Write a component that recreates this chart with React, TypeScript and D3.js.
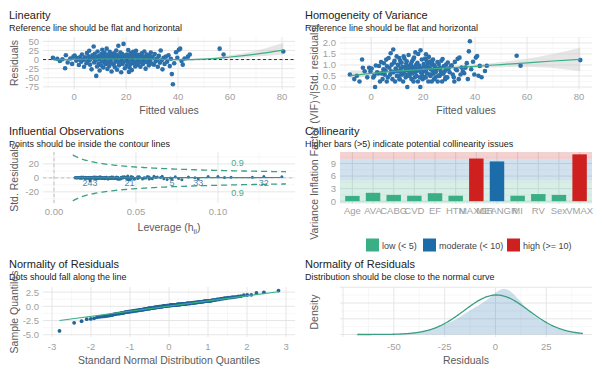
import React from "react";
import * as d3 from "d3";

// ---------- data ----------
const fitted = [
  -8.2, -6.5, -5.5, -4.5, -3.5, -3.2, -2.5, -1.5, -0.8, -0.3,
  0.2, 0.8, 1.2, 1.8, 2.3, 2.7, 3.0, 3.4, 3.8, 4.1, 4.4, 4.7, 4.9, 1.5,
  5.2, 5.5, 5.8, 6.1, 6.4, 6.7, 7.0, 7.3, 7.5, 7.7, 7.9, 8.2, 8.5, 8.6, 8.8, 9.0, 9.2, 9.4, 9.6, 9.8, 9.9, 6.0,
  10.1, 10.3, 10.5, 10.6, 10.8, 11.0, 11.2, 11.4, 11.5, 11.7, 11.9, 12.1, 12.3, 12.5, 12.6, 12.8, 13.0, 13.2, 13.3, 13.5, 13.7, 13.9, 14.0, 14.2, 14.4, 14.5, 14.7, 14.8, 10.9, 12.0,
  15.0, 15.2, 15.3, 15.5, 15.7, 15.8, 16.0, 16.2, 16.3, 16.5, 16.7, 16.8, 17.0, 17.1, 17.3, 17.5, 17.6, 17.8, 18.0, 18.1, 18.3, 18.5, 18.6, 18.8, 19.0, 19.1, 19.3, 19.5, 19.6, 19.8, 16.1, 17.4, 18.9, 15.9,
  20.0, 20.2, 20.3, 20.5, 20.7, 20.8, 21.0, 21.2, 21.3, 21.5, 21.7, 21.8, 22.0, 22.2, 22.3, 22.5, 22.7, 22.8, 23.0, 23.2, 23.3, 23.5, 23.7, 23.8, 24.0, 24.2, 24.3, 24.5, 24.7, 24.8, 21.1, 23.1,
  25.0, 25.3, 25.5, 25.8, 26.0, 26.3, 26.5, 26.8, 27.0, 27.3, 27.5, 27.8, 28.0, 28.3, 28.5, 28.8, 29.0, 29.3, 29.5, 29.8, 25.6, 26.6, 27.6, 28.6,
  30.2, 30.7, 31.0, 31.4, 31.8, 32.2, 32.6, 33.0, 33.3, 33.7, 34.0, 34.4, 34.8, 32.0,
  35.3, 35.8, 36.3, 36.8, 37.2, 37.6, 38.0, 38.5, 39.2, 39.7,
  40.3, 40.8, 41.3, 41.8, 42.5, 43.8, 44.5,
  56.0, 57.5, 80.5,
];
const residuals = [
  5, 2, -4, 1, -24, 12, -8, 3, -12, 8,
  11, -3, 4, -15, 7, -6, 14, -1, -20, 6, 2, -10, 18, 0,
  -5, 9, 24, -14, 3, -27, 12, 5, 36, -8, 16, -2, -45, 7, -19, 22, 1, -11, 10, -30, 4, -1,
  8, -16, 15, -4, 27, 2, -22, 11, -7, 19, 5, -13, -1, 30, 6, -26, 13, -9, 3, -18, 21, 0, -5, 9, -33, 14, -11, 4, -2, 7,
  6, -14, 17, 2, -21, 10, -6, 25, 1, -28, 12, -3, 38, 7, -16, 4, -9, 19, -1, -35, 9, 15, -12, 3, 43, -7, 11, -24, 5, -2, 8, -11, 0, 13,
  8, -17, 14, 3, -8, 26, -3, 10, -22, 6, -13, 18, 1, -29, 12, -5, 21, 4, -10, 16, -1, -19, 9, 24, -6, 2, -15, 13, -3, 7, -34, 5,
  -9, 11, -20, 4, 17, -4, -12, 8, 22, -1, -25, 6, 14, -8, 2, -16, 10, -3, 19, -11, 1, 5, -6, 3,
  7, -14, 15, -5, 3, -20, 10, -9, 25, -2, -27, 5, -12, 1,
  8, -6, 12, -18, 2, -40, -68, -10, 20, 5,
  27, 30, -4, -14, 3, 8, 14,
  30, 14, 22,
];
const leverage = [
  0.062, 0.048, 0.055, 0.041, 0.072, 0.035, 0.044, 0.029, 0.038, 0.026,
  0.031, 0.022, 0.045, 0.019, 0.036, 0.027, 0.052, 0.024, 0.033, 0.018, 0.041, 0.029, 0.058, 0.021,
  0.016, 0.034, 0.047, 0.025, 0.013, 0.039, 0.028, 0.021, 0.066, 0.017, 0.043, 0.030, 0.046, 0.015, 0.026, 0.051, 0.019, 0.032, 0.024, 0.045, 0.014, 0.028,
  0.020, 0.035, 0.027, 0.016, 0.042, 0.023, 0.031, 0.018, 0.025, 0.038, 0.014, 0.029, 0.021, 0.057, 0.017, 0.033, 0.026, 0.019, 0.036, 0.022, 0.048, 0.013, 0.030, 0.024, 0.040, 0.018, 0.027, 0.015, 0.034, 0.021,
  0.023, 0.031, 0.017, 0.044, 0.026, 0.019, 0.035, 0.028, 0.015, 0.039, 0.022, 0.030, 0.061, 0.018, 0.027, 0.013, 0.033, 0.024, 0.020, 0.046, 0.029, 0.016, 0.037, 0.025, 0.045, 0.021, 0.032, 0.054, 0.018, 0.026, 0.034, 0.023, 0.014, 0.029,
  0.027, 0.036, 0.019, 0.024, 0.031, 0.043, 0.016, 0.028, 0.038, 0.022, 0.033, 0.025, 0.018, 0.049, 0.029, 0.021, 0.035, 0.014, 0.026, 0.032, 0.020, 0.040, 0.023, 0.047, 0.030, 0.017, 0.034, 0.025, 0.019, 0.028, 0.069, 0.022,
  0.032, 0.026, 0.041, 0.021, 0.036, 0.029, 0.045, 0.024, 0.052, 0.030, 0.058, 0.027, 0.039, 0.033, 0.025, 0.047, 0.035, 0.028, 0.063, 0.038, 0.031, 0.024, 0.042, 0.027,
  0.036, 0.049, 0.041, 0.033, 0.055, 0.060, 0.039, 0.046, 0.074, 0.037, 0.088, 0.043, 0.051, 0.035,
  0.048, 0.056, 0.044, 0.067, 0.052, 0.078, 0.022, 0.059, 0.082, 0.065,
  0.094, 0.100, 0.071, 0.076, 0.086, 0.104, 0.108,
  0.128, 0.121, 0.139,
];

// loess smooths
const linSmoothX = [-8, 0, 10, 20, 30, 40, 45, 50, 60, 70, 80.5];
const linSmoothY = [-1, 0.5, 1, 1.5, 1, 0, 0, 1, 7, 15, 26];
const linSmoothLo = [-5, -2, -1, 0, -1, -3, -3, -2, 3, 8, 14];
const linSmoothHi = [3, 3, 3, 3, 3, 3, 3, 4, 12, 24, 46];

const homSmoothX = [-8, 0, 10, 20, 30, 40, 50, 60, 70, 80.5];
const homSmoothY = [0.52, 0.62, 0.72, 0.8, 0.87, 0.94, 1.02, 1.1, 1.18, 1.25];
const homSmoothLo = [0.36, 0.5, 0.65, 0.75, 0.8, 0.86, 0.9, 0.92, 0.86, 0.72];
const homSmoothHi = [0.74, 0.74, 0.79, 0.85, 0.94, 1.02, 1.14, 1.28, 1.5, 1.78];

const infSmoothX = [0.012, 0.04, 0.08, 0.139];
const infSmoothY = [0.4, 0.2, 0.3, 0.5];
const infLabels = ["243", "21", "5", "33", "32"];
const infLabelFitted = [38.0, 8.5, -3.5, 34.0, 56.0];
const cookLevel = 0.9;
const nParams = 14;
const contourLabelLev = 0.112;
const contourLabelY = [22, -21];

const vifTerms = ["Age", "AVA", "CABG", "CVD", "EF", "HTN", "MAXGR", "MEANGR", "MI", "RV", "Sex", "VMAX"];
const vifValues = [1.25, 2.0, 1.5, 1.3, 1.9, 1.3, 10.2, 9.5, 1.3, 1.7, 1.5, 11.2];
const legendLabels = ["low (< 5)", "moderate (< 10)", "high (>= 10)"];

// ---------- style ----------
const FONT = "'Liberation Sans', Arial, Helvetica, sans-serif";
const GREEN = "#3aaf85";
const BLUE = "#1b6ca8";
const RED = "#cd201f";
const MAJ = "#e3e3e3";
const MIN = "#f1f1f1";
const TICK = "#a0a0a0";
const AXT = "#5a5a5a";
const TTL = "#222222";

function qnorm(p: number): number {
  const a = [-3.969683028665376e1, 2.209460984245205e2, -2.759285104469687e2, 1.38357751867269e2, -3.066479806614716e1, 2.506628277459239];
  const b = [-5.447609879822406e1, 1.615858368580409e2, -1.556989798598866e2, 6.680131188771972e1, -1.328068155288572e1];
  const c = [-7.784894002430293e-3, -3.223964580411365e-1, -2.400758277161838, -2.549732539343734, 4.374664141464968, 2.938163982698783];
  const d = [7.784695709041462e-3, 3.224671290700398e-1, 2.445134137142996, 3.754408661907416];
  const pl = 0.02425;
  if (p < pl) {
    const q = Math.sqrt(-2 * Math.log(p));
    return (((((c[0] * q + c[1]) * q + c[2]) * q + c[3]) * q + c[4]) * q + c[5]) / ((((d[0] * q + d[1]) * q + d[2]) * q + d[3]) * q + 1);
  }
  if (p > 1 - pl) {
    const q = Math.sqrt(-2 * Math.log(1 - p));
    return -(((((c[0] * q + c[1]) * q + c[2]) * q + c[3]) * q + c[4]) * q + c[5]) / ((((d[0] * q + d[1]) * q + d[2]) * q + d[3]) * q + 1);
  }
  const q = p - 0.5;
  const r = q * q;
  return ((((((a[0] * r + a[1]) * r + a[2]) * r + a[3]) * r + a[4]) * r + a[5]) * q) / (((((b[0] * r + b[1]) * r + b[2]) * r + b[3]) * r + b[4]) * r + 1);
}

type Lin = d3.ScaleLinear<number, number>;

function Grid({ xs, ys, xMaj, xMin, yMaj, yMin }: { xs: Lin; ys: Lin; xMaj: number[]; xMin: number[]; yMaj: number[]; yMin: number[] }) {
  const [xa, xb] = xs.range();
  const [ya, yb] = ys.range();
  const xd = xs.domain();
  const yd = ys.domain();
  const inX = (v: number) => v >= Math.min(xd[0], xd[1]) && v <= Math.max(xd[0], xd[1]);
  const inY = (v: number) => v >= Math.min(yd[0], yd[1]) && v <= Math.max(yd[0], yd[1]);
  return (
    <g>
      {yMin.filter(inY).map((v) => (
        <line key={"ym" + v} x1={xa} x2={xb} y1={ys(v)} y2={ys(v)} stroke={MIN} strokeWidth={0.6} />
      ))}
      {xMin.filter(inX).map((v) => (
        <line key={"xm" + v} x1={xs(v)} x2={xs(v)} y1={ya} y2={yb} stroke={MIN} strokeWidth={0.6} />
      ))}
      {yMaj.filter(inY).map((v) => (
        <line key={"yM" + v} x1={xa} x2={xb} y1={ys(v)} y2={ys(v)} stroke={MAJ} strokeWidth={0.9} />
      ))}
      {xMaj.filter(inX).map((v) => (
        <line key={"xM" + v} x1={xs(v)} x2={xs(v)} y1={ya} y2={yb} stroke={MAJ} strokeWidth={0.9} />
      ))}
    </g>
  );
}

function YTicks({ ys, vals, fmt, xr }: { ys: Lin; vals: number[]; fmt: (v: number) => string; xr: number }) {
  return (
    <g>
      {vals.map((v) => (
        <text key={v} x={xr} y={ys(v) + 3.4} textAnchor="end" fontSize={9.5} fill={TICK} fontFamily={FONT}>
          {fmt(v)}
        </text>
      ))}
    </g>
  );
}

function XTicks({ xs, vals, fmt, yb }: { xs: Lin; vals: number[]; fmt: (v: number) => string; yb: number }) {
  return (
    <g>
      {vals.map((v) => (
        <text key={v} x={xs(v)} y={yb} textAnchor="middle" fontSize={9.5} fill={TICK} fontFamily={FONT}>
          {fmt(v)}
        </text>
      ))}
    </g>
  );
}

function Titles({ x, y, title, sub }: { x: number; y: number; title: string; sub: string }) {
  return (
    <g fontFamily={FONT}>
      <text x={x} y={y} fontSize={11} fill={TTL}>{title}</text>
      <text x={x} y={y + 11.5} fontSize={9} fill={TTL}>{sub}</text>
    </g>
  );
}

function YTitle({ x, y, text }: { x: number; y: number; text: string }) {
  return (
    <text transform={`translate(${x},${y}) rotate(-90)`} textAnchor="middle" fontSize={10.5} fill={AXT} fontFamily={FONT}>
      {text}
    </text>
  );
}

export default function App() {
  const n = residuals.length;
  const sigma = d3.deviation(residuals) as number;
  const mu = d3.mean(residuals) as number;
  const sres = residuals.map((r, i) => r / (sigma * Math.sqrt(1 - leverage[i])));
  const sqrtAbs = sres.map((s) => Math.sqrt(Math.abs(s)));
  const idx = d3.range(n);

  const intFmt = (v: number) => String(v);

  // Panel 1 – Linearity
  const x1 = d3.scaleLinear().domain([-12, 85]).range([43, 295]);
  const y1 = d3.scaleLinear().domain([-81, 62]).range([89, 37]);
  const linArea = d3.area<number>().x((i) => x1(linSmoothX[i])).y0((i) => y1(linSmoothLo[i])).y1((i) => y1(linSmoothHi[i])).curve(d3.curveMonotoneX);
  const linLine = d3.line<number>().x((i) => x1(linSmoothX[i])).y((i) => y1(linSmoothY[i])).curve(d3.curveMonotoneX);

  // Panel 2 – Homogeneity
  const x2 = d3.scaleLinear().domain([-12, 85]).range([340, 592]);
  const y2 = d3.scaleLinear().domain([-0.09, 2.27]).range([89, 37]);
  const homArea = d3.area<number>().x((i) => x2(homSmoothX[i])).y0((i) => y2(homSmoothLo[i])).y1((i) => y2(homSmoothHi[i])).curve(d3.curveMonotoneX);
  const homLine = d3.line<number>().x((i) => x2(homSmoothX[i])).y((i) => y2(homSmoothY[i])).curve(d3.curveMonotoneX);

  // Panel 3 – Influential
  const x3 = d3.scaleLinear().domain([-0.0067, 0.147]).range([43, 295]);
  const y3 = d3.scaleLinear().domain([-36, 37]).range([203, 152]);
  const levGrid = d3.range(0.0115, 0.1425, 0.001);
  const cook = (h: number) => Math.sqrt((cookLevel * nParams * (1 - h)) / h);
  const cookUp = d3.line<number>().x((h) => x3(h)).y((h) => y3(cook(h)));
  const cookDn = d3.line<number>().x((h) => x3(h)).y((h) => y3(-cook(h)));
  const infLine = d3.line<number>().x((i) => x3(infSmoothX[i])).y((i) => y3(infSmoothY[i])).curve(d3.curveMonotoneX);

  // Panel 4 – Collinearity
  const x4 = d3.scaleBand<string>().domain(vifTerms).range([340, 592]).paddingInner(0.3).paddingOuter(0.25);
  const y4 = d3.scaleLinear().domain([-0.56, 11.76]).range([203.5, 152]);
  const vifColor = (v: number) => (v < 5 ? GREEN : v < 10 ? BLUE : RED);

  // Panel 5 – QQ
  const x5 = d3.scaleLinear().domain([-3.23, 3.23]).range([43, 295]);
  const y5 = d3.scaleLinear().domain([-5.4, 3.4]).range([337, 287]);
  const sortedS = [...sres].sort((a, b) => a - b);
  const theo = idx.map((i) => qnorm((i + 0.5) / n));
  const qs25 = d3.quantile(sortedS, 0.25) as number;
  const qs75 = d3.quantile(sortedS, 0.75) as number;
  const qt25 = qnorm(0.25);
  const qt75 = qnorm(0.75);
  const slope = (qs75 - qs25) / (qt75 - qt25);
  const icpt = qs25 - slope * qt25;
  const tMin = theo[0];
  const tMax = theo[n - 1];

  // Panel 6 – density
  const x6 = d3.scaleLinear().domain([-76.5, 47.5]).range([340, 592]);
  const sortedR = [...residuals].sort((a, b) => a - b);
  const iqr = (d3.quantile(sortedR, 0.75) as number) - (d3.quantile(sortedR, 0.25) as number);
  const bw = 1.0 * 0.9 * Math.min(sigma, iqr / 1.34) * Math.pow(n, -0.2);
  const rMin = sortedR[0];
  const rMax = sortedR[n - 1];
  const grid6 = d3.range(rMin, rMax + 0.001, (rMax - rMin) / 240);
  const kde = grid6.map((g) => d3.mean(residuals, (r) => Math.exp(-0.5 * ((g - r) / bw) ** 2) / (bw * Math.sqrt(2 * Math.PI))) as number);
  const dn = grid6.map((g) => Math.exp(-0.5 * ((g - mu) / sigma) ** 2) / (sigma * Math.sqrt(2 * Math.PI)));
  const M = Math.max(d3.max(kde) as number, d3.max(dn) as number);
  const y6 = d3.scaleLinear().domain([-0.055 * M, 1.044 * M]).range([337, 287]);
  const kdeArea = d3.area<number>().x((i) => x6(grid6[i])).y0(y6(0)).y1((i) => y6(kde[i])).curve(d3.curveBasis);
  const dnLine = d3.line<number>().x((i) => x6(grid6[i])).y((i) => y6(dn[i])).curve(d3.curveBasis);
  const y6Maj = y6.ticks(3).filter((v) => v >= 0);
  const y6Step = y6Maj.length > 1 ? y6Maj[1] - y6Maj[0] : M / 3;
  const y6Min = y6Maj.map((v) => v + y6Step / 2);

  const gIdx = d3.range(grid6.length);

  return (
    <svg width={602} height={375} style={{ position: "absolute", left: 0, top: 0, background: "#fff" }} fontFamily={FONT}>
      <rect x={0} y={0} width={602} height={375} fill="#fff" />

      {/* ---------------- Panel 1 ---------------- */}
      <Titles x={9} y={19} title="Linearity" sub="Reference line should be flat and horizontal" />
      <Grid xs={x1} ys={y1} xMaj={[0, 20, 40, 60, 80]} xMin={[-10, 10, 30, 50, 70]} yMaj={[-75, -50, -25, 0, 25, 50]} yMin={[-62.5, -37.5, -12.5, 12.5, 37.5, 62.5]} />
      <path d={linArea(d3.range(linSmoothX.length)) as string} fill="#c8c8c8" opacity={0.45} />
      {idx.map((i) => (
        <circle key={i} cx={x1(fitted[i])} cy={y1(residuals[i])} r={2.3} fill="#2b6fab" />
      ))}
      <line x1={43} x2={295} y1={y1(0)} y2={y1(0)} stroke="#1a1a1a" strokeWidth={0.9} strokeDasharray="3 2.5" />
      <path d={linLine(d3.range(linSmoothX.length)) as string} fill="none" stroke={GREEN} strokeWidth={1.2} />
      <YTicks ys={y1} vals={[50, 25, 0, -25, -50, -75]} fmt={intFmt} xr={39} />
      <XTicks xs={x1} vals={[0, 20, 40, 60, 80]} fmt={intFmt} yb={100} />
      <text x={169} y={114} textAnchor="middle" fontSize={10.5} fill={AXT}>Fitted values</text>
      <YTitle x={18} y={63} text="Residuals" />

      {/* ---------------- Panel 2 ---------------- */}
      <Titles x={305} y={19} title="Homogeneity of Variance" sub="Reference line should be flat and horizontal" />
      <Grid xs={x2} ys={y2} xMaj={[0, 20, 40, 60, 80]} xMin={[-10, 10, 30, 50, 70]} yMaj={[0, 0.5, 1, 1.5, 2]} yMin={[0.25, 0.75, 1.25, 1.75, 2.25]} />
      <path d={homArea(d3.range(homSmoothX.length)) as string} fill="#c8c8c8" opacity={0.45} />
      {idx.map((i) => (
        <circle key={i} cx={x2(fitted[i])} cy={y2(sqrtAbs[i])} r={2.3} fill="#2b6fab" />
      ))}
      <path d={homLine(d3.range(homSmoothX.length)) as string} fill="none" stroke={GREEN} strokeWidth={1.2} />
      <YTicks ys={y2} vals={[0, 0.5, 1, 1.5, 2]} fmt={(v) => v.toFixed(1)} xr={336} />
      <XTicks xs={x2} vals={[0, 20, 40, 60, 80]} fmt={intFmt} yb={100} />
      <text x={466} y={114} textAnchor="middle" fontSize={10.5} fill={AXT}>Fitted values</text>
      <YTitle x={318} y={62} text="√|Std. residuals|" />

      {/* ---------------- Panel 3 ---------------- */}
      <Titles x={9} y={135} title="Influential Observations" sub="Points should be inside the contour lines" />
      <Grid xs={x3} ys={y3} xMaj={[0, 0.05, 0.1]} xMin={[0.025, 0.075, 0.125]} yMaj={[-20, 0, 20]} yMin={[-30, -10, 10, 30]} />
      <line x1={x3(0)} x2={x3(0)} y1={152} y2={203} stroke="#b8b8b8" strokeWidth={0.8} strokeDasharray="3 3" />
      <line x1={43} x2={295} y1={y3(0)} y2={y3(0)} stroke="#b8b8b8" strokeWidth={0.8} strokeDasharray="3 3" />
      <path d={cookUp(levGrid) as string} fill="none" stroke="#3a9f85" strokeWidth={1.3} strokeDasharray="6 4" />
      <path d={cookDn(levGrid) as string} fill="none" stroke="#3a9f85" strokeWidth={1.3} strokeDasharray="6 4" />
      {contourLabelY.map((v, k) => (
        <text key={k} x={x3(contourLabelLev)} y={y3(v) + 3.2} textAnchor="middle" fontSize={9} fill="#4aa88a">{String(cookLevel)}</text>
      ))}
      {infLabels.map((lab, k) => {
        const i = fitted.indexOf(infLabelFitted[k]);
        return (
          <text key={lab} x={x3(leverage[i])} y={y3(0) + 8.5} textAnchor="middle" fontSize={9} fill="#5a84aa">{lab}</text>
        );
      })}
      {idx.map((i) => (
        <circle key={i} cx={x3(leverage[i])} cy={y3(sres[i])} r={1.5} fill="#2b6f9a" />
      ))}
      <path d={infLine(d3.range(infSmoothX.length)) as string} fill="none" stroke="#3a8f8a" strokeWidth={1.2} />
      <YTicks ys={y3} vals={[20, 0, -20]} fmt={intFmt} xr={39} />
      <XTicks xs={x3} vals={[0, 0.05, 0.1]} fmt={(v) => v.toFixed(2)} yb={215} />
      <text x={169} y={231} textAnchor="middle" fontSize={10.5} fill={AXT}>
        Leverage (h<tspan fontSize={7.5} dy={3}>ii</tspan><tspan dy={-3}>)</tspan>
      </text>
      <YTitle x={18} y={178} text="Std. Residuals" />

      {/* ---------------- Panel 4 ---------------- */}
      <Titles x={305} y={135} title="Collinearity" sub="Higher bars (>5) indicate potential collinearity issues" />
      {[1.5, 4.5, 7.5, 10.5].map((v) => (
        <line key={"m" + v} x1={340} x2={592} y1={y4(v)} y2={y4(v)} stroke={MIN} strokeWidth={0.6} />
      ))}
      {[0, 3, 6, 9].map((v) => (
        <line key={"M" + v} x1={340} x2={592} y1={y4(v)} y2={y4(v)} stroke={MAJ} strokeWidth={0.9} />
      ))}
      {vifTerms.map((t) => (
        <line key={"v" + t} x1={(x4(t) as number) + x4.bandwidth() / 2} x2={(x4(t) as number) + x4.bandwidth() / 2} y1={152} y2={203.5} stroke={MAJ} strokeWidth={0.9} />
      ))}
      <rect x={340} width={252} y={y4(5)} height={203.5 - y4(5)} fill={GREEN} opacity={0.2} />
      <rect x={340} width={252} y={y4(10)} height={y4(5) - y4(10)} fill={BLUE} opacity={0.2} />
      <rect x={340} width={252} y={152} height={y4(10) - 152} fill={RED} opacity={0.2} />
      {vifTerms.map((t, i) => (
        <rect key={t} x={x4(t)} width={x4.bandwidth()} y={y4(vifValues[i])} height={y4(0) - y4(vifValues[i])} fill={vifColor(vifValues[i])} />
      ))}
      <YTicks ys={y4} vals={[9, 6, 3, 0]} fmt={intFmt} xr={336} />
      {vifTerms.map((t) => (
        <text key={"l" + t} x={(x4(t) as number) + x4.bandwidth() / 2} y={214} textAnchor="middle" fontSize={9.5} fill={TICK}>{t}</text>
      ))}
      <YTitle x={318} y={170} text="Variance Inflation Factor (VIF)" />
      {legendLabels.map((lab, k) => {
        const lx = [366, 423, 507][k];
        return (
          <g key={lab}>
            <rect x={lx} y={238.5} width={13} height={13} fill={[GREEN, BLUE, RED][k]} />
            <text x={lx + 16} y={248.5} fontSize={9} fill="#444">{lab}</text>
          </g>
        );
      })}

      {/* ---------------- Panel 5 ---------------- */}
      <Titles x={9} y={268} title="Normality of Residuals" sub="Dots should fall along the line" />
      <Grid xs={x5} ys={y5} xMaj={[-3, -2, -1, 0, 1, 2, 3]} xMin={[-2.5, -1.5, -0.5, 0.5, 1.5, 2.5]} yMaj={[-5, -2.5, 0, 2.5]} yMin={[-3.75, -1.25, 1.25, 3.75]} />
      {idx.map((i) => (
        <circle key={i} cx={x5(theo[i])} cy={y5(sortedS[i])} r={1.9} fill="#22649a" />
      ))}
      <line x1={x5(tMin)} x2={x5(tMax)} y1={y5(icpt + slope * tMin)} y2={y5(icpt + slope * tMax)} stroke={GREEN} strokeWidth={1.2} />
      <YTicks ys={y5} vals={[2.5, 0, -2.5, -5]} fmt={(v) => v.toFixed(1)} xr={39} />
      <XTicks xs={x5} vals={[-3, -2, -1, 0, 1, 2, 3]} fmt={intFmt} yb={350} />
      <text x={169} y={364} textAnchor="middle" fontSize={10.5} fill={AXT}>Standard Normal Distribution Quantiles</text>
      <YTitle x={18} y={312} text="Sample Quantiles" />

      {/* ---------------- Panel 6 ---------------- */}
      <Titles x={305} y={268} title="Normality of Residuals" sub="Distribution should be close to the normal curve" />
      <Grid xs={x6} ys={y6} xMaj={[-75, -50, -25, 0, 25]} xMin={[-62.5, -37.5, -12.5, 12.5, 37.5]} yMaj={y6Maj} yMin={y6Min} />
      <path d={kdeArea(gIdx) as string} fill={BLUE} opacity={0.22} />
      <path d={dnLine(gIdx) as string} fill="none" stroke="#3a9f82" strokeWidth={1.3} />
      <XTicks xs={x6} vals={[-50, -25, 0, 25]} fmt={intFmt} yb={350} />
      <text x={466} y={364} textAnchor="middle" fontSize={10.5} fill={AXT}>Residuals</text>
      <YTitle x={318} y={312} text="Density" />
    </svg>
  );
}
